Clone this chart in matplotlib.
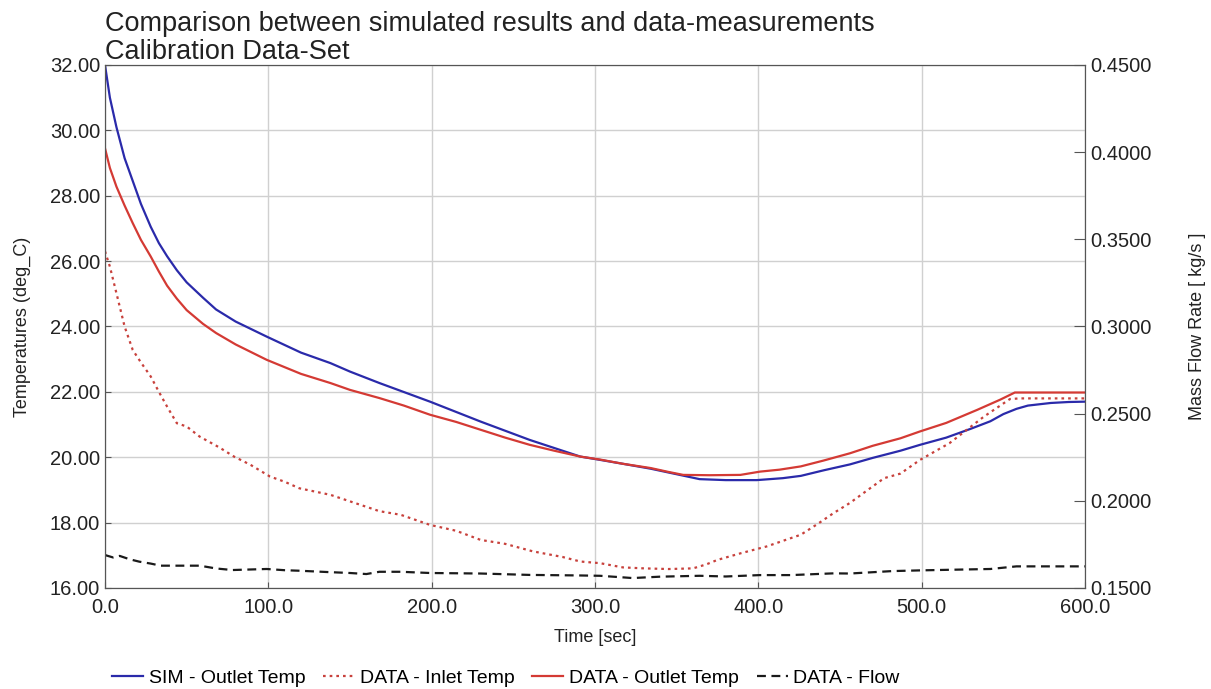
import matplotlib
matplotlib.use("Agg")
import matplotlib.pyplot as plt
from matplotlib.ticker import FormatStrFormatter

plt.rcParams['font.family'] = ['Liberation Sans', 'DejaVu Sans']

# SIM - Outlet Temp
sim_t = [0, 3, 7, 12, 17, 22, 28, 33, 38, 44, 50, 60, 68, 80, 99, 120, 138, 150, 168, 199,
         230, 260, 291, 303, 317, 334, 350, 364, 380, 399, 415, 426, 440, 456, 470, 487,
         499, 515, 530, 542, 550, 558, 565, 579, 590, 600]
sim_T = [32.0, 31.0, 30.1, 29.15, 28.45, 27.75, 27.05, 26.55, 26.15, 25.72, 25.35, 24.88, 24.52,
         24.15, 23.69, 23.2, 22.88, 22.62, 22.27, 21.70, 21.09, 20.53, 20.02, 19.92, 19.8,
         19.65, 19.48, 19.33, 19.3, 19.3, 19.36, 19.43, 19.6, 19.78, 19.98, 20.2, 20.38,
         20.6, 20.87, 21.1, 21.32, 21.48, 21.58, 21.66, 21.69, 21.70]

# DATA - Inlet Temp
inl_t = [0, 3, 7, 12, 17, 22, 28, 33, 38, 44, 50, 58, 70, 79, 89, 101, 110, 119, 138, 150,
         168, 181, 199, 215, 230, 245, 262, 280, 291, 303, 317, 330, 345, 360, 368, 375,
         389, 405, 426, 436, 446, 456, 467, 477, 487, 499, 517, 538, 554, 560, 600]
inl_T = [26.3, 25.83, 25.02, 24.0, 23.28, 22.9, 22.47, 22.0, 21.55, 21.04, 20.94, 20.63,
         20.3, 20.02, 19.77, 19.41, 19.25, 19.05, 18.85, 18.65, 18.35, 18.24, 17.93, 17.75,
         17.47, 17.35, 17.12, 16.95, 16.81, 16.76, 16.63, 16.6, 16.58, 16.6, 16.72, 16.86,
         17.06, 17.27, 17.63, 17.95, 18.29, 18.6, 19.0, 19.36, 19.5, 19.92, 20.43, 21.24,
         21.78, 21.8, 21.8]

# DATA - Outlet Temp
out_t = [0, 3, 7, 12, 17, 22, 28, 33, 38, 44, 50, 60, 68, 80, 99, 120, 138, 150, 168, 183,
         199, 215, 230, 245, 260, 275, 291, 303, 317, 334, 345, 354, 370, 389, 401, 413,
         426, 440, 456, 470, 487, 499, 515, 534, 548, 557, 600]
out_T = [29.45, 28.85, 28.28, 27.7, 27.16, 26.65, 26.14, 25.68, 25.25, 24.85, 24.5, 24.08,
         23.8, 23.45, 22.98, 22.55, 22.27, 22.06, 21.81, 21.58, 21.3, 21.08, 20.84, 20.6,
         20.38, 20.2, 20.02, 19.93, 19.8, 19.67, 19.55, 19.46, 19.45, 19.46, 19.56, 19.62,
         19.72, 19.9, 20.12, 20.35, 20.58, 20.79, 21.05, 21.45, 21.76, 21.98, 21.98]

# DATA - Flow
flow_t = [0, 5, 9, 15, 21, 28, 34, 45, 58, 68, 78, 99, 110, 119, 135, 150, 160, 168, 181,
          199, 230, 260, 290, 303, 317, 323, 340, 364, 380, 401, 420, 446, 456, 482, 499,
          520, 542, 558, 600]
flow_v = [0.1689, 0.1675, 0.1684, 0.1665, 0.1651, 0.164, 0.1628, 0.1628, 0.1628, 0.1612,
          0.1603, 0.1609, 0.1602, 0.1599, 0.1592, 0.1586, 0.158, 0.1593, 0.1593, 0.1586,
          0.1583, 0.1575, 0.1572, 0.157, 0.1561, 0.1557, 0.1565, 0.157, 0.1566, 0.1574,
          0.1574, 0.1584, 0.1583, 0.1597, 0.1601, 0.1605, 0.1609, 0.1624, 0.1624]

fig = plt.figure(figsize=(12.11, 6.89), dpi=100)
ax = fig.add_axes([0.0867, 0.1466, 0.8093, 0.7591])
ax2 = ax.twinx()

l1, = ax.plot(sim_t, sim_T, color='#2a2aaa', lw=1.6, label='SIM - Outlet Temp')
l2, = ax.plot(inl_t, inl_T, color='#c8413c', lw=1.6, ls=(0, (1.2, 1.8)), label='DATA - Inlet Temp')
l3, = ax.plot(out_t, out_T, color='#d43a34', lw=1.6, label='DATA - Outlet Temp')
l4, = ax2.plot(flow_t, flow_v, color='#1a1a1a', lw=1.6, ls=(0, (4, 2.5)), label='DATA - Flow')

ax.set_xlim(0, 600)
ax.set_ylim(16, 32)
ax2.set_ylim(0.15, 0.45)
ax.set_xticks(range(0, 601, 100))
ax.set_yticks(range(16, 33, 2))
ax2.set_yticks([0.15, 0.20, 0.25, 0.30, 0.35, 0.40, 0.45])
ax.xaxis.set_major_formatter(FormatStrFormatter('%.1f'))
ax.yaxis.set_major_formatter(FormatStrFormatter('%.2f'))
ax2.yaxis.set_major_formatter(FormatStrFormatter('%.4f'))

ax.grid(True, color='#d0d0d0', lw=1.0)
ax.set_axisbelow(True)
for a in (ax, ax2):
    for s in a.spines.values():
        s.set_color('#555555')
ax.tick_params(direction='in', labelsize=14.5, colors='#555555', labelcolor='#222222', length=4)
ax2.tick_params(direction='in', labelsize=14.5, colors='#555555', labelcolor='#222222', length=8)
ax.tick_params(axis='x', pad=7)

ax.set_xlabel('Time [sec]', fontsize=13, color='#222222')
ax.set_ylabel('Temperatures (deg_C)', fontsize=13, color='#222222')
ax2.set_ylabel('Mass Flow Rate [ kg/s ]', fontsize=13, color='#222222')
ax.xaxis.set_label_coords(0.5, -0.078)
ax.yaxis.set_label_coords(-0.075, 0.5)
ax2.yaxis.set_label_coords(1.106, 0.5)

fig.text(0.0867, 0.955, 'Comparison between simulated results and data-measurements',
         fontsize=19.5, color='#222222', ha='left', va='baseline')
fig.text(0.0867, 0.915, 'Calibration Data-Set', fontsize=19.5, color='#222222',
         ha='left', va='baseline')

fig.legend(handles=[l1, l2, l3, l4], loc='lower left', bbox_to_anchor=(0.078, -0.022),
           ncol=4, frameon=False, fontsize=14, handlelength=1.6, handletextpad=0.3,
           columnspacing=0.9)

fig.savefig('out.png', dpi=100)
